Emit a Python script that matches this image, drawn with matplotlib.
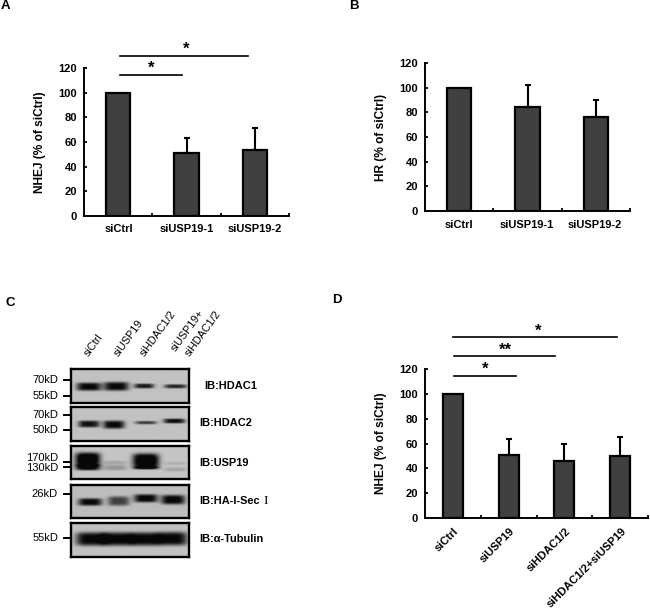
import numpy as np
import matplotlib
matplotlib.use('Agg')
import matplotlib.pyplot as plt

plt.rcParams['font.family'] = ['Liberation Sans', 'DejaVu Sans']

W, H = 650, 615

# bar charts
cats_a = ['siCtrl', 'siUSP19-1', 'siUSP19-2']
vals_a = [100, 51, 53.5]
tops_a = [100, 63.5, 71.5]

cats_b = ['siCtrl', 'siUSP19-1', 'siUSP19-2']
vals_b = [100, 84.5, 76.5]
tops_b = [100, 102, 90]

cats_d = ['siCtrl', 'siUSP19', 'siHDAC1/2', 'siHDAC1/2+siUSP19']
vals_d = [100, 51, 46, 50]
tops_d = [100, 63.5, 60, 65]

yticks = [0, 20, 40, 60, 80, 100, 120]

# blots: label, top, background, bands (x, half width, y, half height, strength)
blots = [
    ('IB:HDAC1', 369.3, 0.76, [(.15, .105, .52, .12, .74), (.38, .105, .51, .13, .74),
                               (.615, .085, .50, .07, .66), (.88, .095, .51, .06, .62)]),
    ('IB:HDAC2', 407.3, 0.76, [(.15, .09, .50, .10, .70), (.36, .09, .52, .12, .74),
                               (.63, .09, .46, .05, .52), (.87, .09, .41, .07, .72)]),
    ('IB:USP19', 446, 0.77, [(.14, .105, .42, .20, .95), (.14, .105, .66, .09, .75),
                             (.63, .11, .46, .21, .95), (.63, .105, .67, .05, .6),
                             (.37, .10, .67, .08, .18), (.37, .10, .52, .06, .12),
                             (.88, .10, .54, .05, .08), (.88, .10, .72, .06, .12)]),
    ('IB:HA-I-Sec', 485, 0.74, [(.16, .10, .53, .11, .72), (.40, .09, .50, .14, .5),
                                (.63, .10, .42, .12, .74), (.86, .10, .46, .14, .74)]),
    ('IB:α-Tubulin', 523.3, 0.76, [(.17, .13, .47, .20, .75), (.39, .13, .47, .20, .75),
                                   (.62, .13, .47, .20, .75), (.85, .13, .46, .20, .75)]),
]
lane_labels = ['siCtrl', 'siUSP19', 'siHDAC1/2', 'siUSP19+', 'siHDAC1/2']
lane_x = [89, 119, 145, 176, 190]
lane_y = [357, 357, 357, 352, 357]
kd_marks = [('70kD', 380, 380), ('55kD', 396, 396), ('70kD', 414.5, 414.5), ('50kD', 430, 430),
            ('170kD', 458, 461.5), ('130kD', 468, 466.5), ('26kD', 494, 494), ('55kD', 538, 538)]


def bar_panel(fig, box, cats, vals, tops, ylabel):
    x0, x1, ytop, ybot = box
    ax = fig.add_axes([x0 / W, 1 - ybot / H, (x1 - x0) / W, (ybot - ytop) / H])
    x = np.arange(len(cats))
    ax.bar(x, vals, width=0.36, color='#404040', edgecolor='black', linewidth=1.6)
    errs = np.array(tops) - np.array(vals)
    ax.errorbar(x[1:], vals[1:], yerr=[np.zeros(len(x) - 1), errs[1:]], fmt='none',
                ecolor='black', elinewidth=1.5, capsize=2.5, capthick=1.5)
    ax.set_xlim(-0.5, len(cats) - 0.5)
    ax.set_ylim(0, 120)
    ax.set_yticks(yticks)
    ax.set_xticks(np.arange(len(cats)) + 0.5)
    ax.set_xticklabels([])
    ax.tick_params(axis='y', direction='in', length=2.2, width=1.3, labelsize=8, pad=5)
    ax.tick_params(axis='x', direction='in', length=2.2, width=1.3)
    for lab in ax.get_yticklabels():
        lab.set_fontweight('bold')
    ax.spines['top'].set_visible(False)
    ax.spines['right'].set_visible(False)
    ax.spines['left'].set_linewidth(1.4)
    ax.spines['bottom'].set_linewidth(1.4)
    ax.set_ylabel(ylabel, fontsize=8.6, fontweight='bold', labelpad=9)
    ax.patch.set_alpha(0)
    return ax


def draw_blot(fig, top, bg, bands):
    left, right = 70.7, 189.3
    height = 33.4
    ax = fig.add_axes([left / W, 1 - (top + height) / H, (right - left) / W, height / H])
    xx, yy = np.meshgrid(np.linspace(0, 1, 240), np.linspace(0, 1, 70))
    img = np.full(xx.shape, bg, dtype=float)
    for cx, wx, cy, wy, amp in bands:
        img -= amp * np.exp(-((xx - cx) / wx) ** 4) * np.exp(-((yy - cy) / wy) ** 4)
    ax.imshow(np.clip(img, 0.03, 1), cmap='gray', vmin=0, vmax=1, aspect='auto',
              extent=[0, 1, 1, 0], interpolation='bilinear')
    ax.set_xticks([])
    ax.set_yticks([])
    for s in ax.spines.values():
        s.set_linewidth(1.7)
    ax.set_zorder(3)


fig = plt.figure(figsize=(6.5, 6.15), dpi=100)

bar_panel(fig, (84, 289, 68.3, 215.7), cats_a, vals_a, tops_a, 'NHEJ (% of siCtrl)')
bar_panel(fig, (425, 630, 63.3, 210.7), cats_b, vals_b, tops_b, 'HR (% of siCtrl)')
bar_panel(fig, (425, 648, 369, 518), cats_d, vals_d, tops_d, 'NHEJ (% of siCtrl)')

for label, top, bg, bands in blots:
    draw_blot(fig, top, bg, bands)

# overlay in pixel coordinates for annotations
ov = fig.add_axes([0, 0, 1, 1])
ov.set_xlim(0, W)
ov.set_ylim(H, 0)
ov.axis('off')
ov.set_zorder(5)

for s, x, y in [('A', 5, 6), ('B', 354, 6), ('C', 10, 303), ('D', 337, 300)]:
    ov.text(x, y, s, fontsize=9.5, fontweight='bold', ha='center', va='center')

# x labels of A and B
for x, s in zip([118.5, 186.5, 255], cats_a):
    ov.text(x, 229.5, s, fontsize=8, fontweight='bold', ha='center', va='center')
for x, s in zip([459, 527, 595], cats_b):
    ov.text(x, 225, s, fontsize=8, fontweight='bold', ha='center', va='center')
# rotated labels of D
for x, s in zip([453, 509, 565, 621], cats_d):
    ov.text(x, 526, s, fontsize=8, fontweight='bold', rotation=45, ha='right', va='top',
            rotation_mode='anchor')

# significance lines
sig_lines = [(120, 182, 75, 151, 68.5, '*'), (120, 248, 56, 186.5, 49.5, '*'),
             (454, 516, 375.7, 485, 369, '*'), (454, 555, 356, 505, 350, '**'),
             (453, 617, 337, 538, 331, '*')]
for xa, xb, y, xs, ys, star in sig_lines:
    ov.plot([xa, xb], [y, y], color='black', lw=1.2)
    ov.text(xs, ys, star, fontsize=12, fontweight='bold', ha='center', va='center')

# blot annotations
for x, y, s in zip(lane_x, lane_y, lane_labels):
    ov.text(x, y, s, fontsize=7.8, rotation=54, ha='left', va='baseline',
            rotation_mode='anchor', color='black')
for s, ylab, ytick in kd_marks:
    ov.text(58, ylab, s, fontsize=8, ha='right', va='center')
    ov.plot([64, 70.7], [ytick, ytick], color='black', lw=1.4)
for (label, top, bg, bands), xl, yl in zip(blots, [204, 199, 199, 199, 199],
                                           [386, 423, 463, 500.7, 538.7]):
    ov.text(xl, yl, label, fontsize=7.9, fontweight='bold', ha='left', va='center')
ov.text(263, 500.7, 'I', fontsize=9.5, family='Liberation Serif', ha='left', va='center')

fig.savefig('out.png', dpi=100)
